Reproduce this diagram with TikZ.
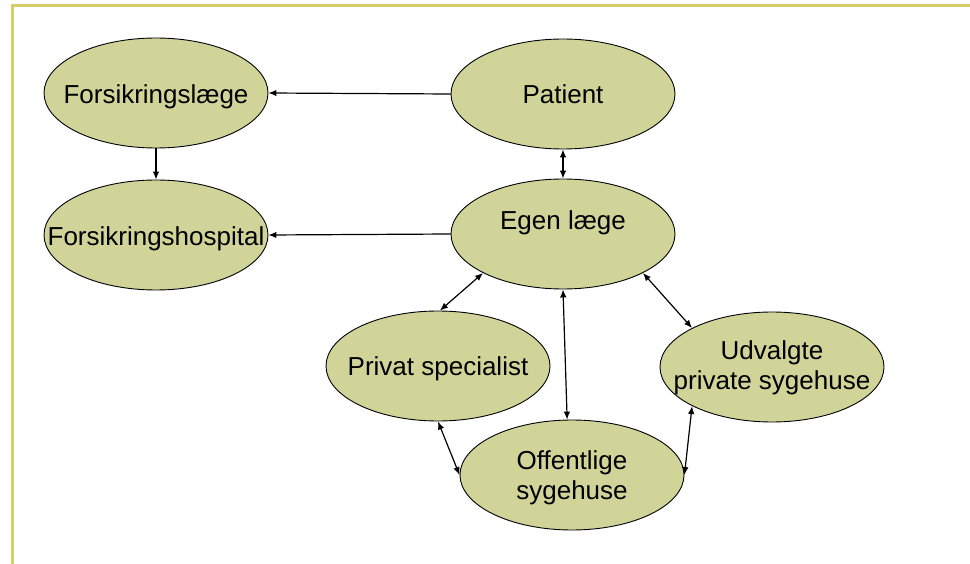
\documentclass[tikz,border=0pt]{standalone}
\usepackage{fontspec}
\setmainfont{Liberation Sans}
\usetikzlibrary{shapes.geometric,arrows.meta}
\definecolor{ellfill}{RGB}{209,212,153}
\definecolor{framecol}{RGB}{213,207,106}
\tikzset{
  ell/.style={ellipse, draw=black, line width=0.9pt, fill=ellfill, minimum width=224pt, minimum height=110pt, inner sep=0pt},
  txt/.style={inner sep=0pt, align=center, font=\fontsize{26}{30}\selectfont},
  txtone/.style={txt, text height=18.6pt, text depth=0pt},
  conn/.style={line width=1.2pt, -{Latex[length=8pt,width=6.5pt]}},
  biconn/.style={line width=1.2pt, {Latex[length=8pt,width=6.5pt]}-{Latex[length=8pt,width=6.5pt]}},
  framebar/.style={draw=framecol, line width=3pt}
}
\begin{document}
\begin{tikzpicture}[x=1pt,y=-1pt]
\useasboundingbox (0,0) rectangle (970,564);
\draw[framebar] (12.5,566) -- (12.5,5.5) -- (972,5.5);

\node[ell] (fl) at (156,93) {};
\node[txtone] (flt) at (156,94) {Forsikringslæge};
\node[ell] (pa) at (563,94) {};
\node[txtone] (pat) at (563,94) {Patient};
\node[ell] (fh) at (156,235) {};
\node[txtone] (fht) at (156,236) {Forsikringshospital};
\node[ell] (eg) at (563,234) {};
\node[txtone] (egt) at (563,220) {Egen læge};
\node[ell] (ps) at (438,366) {};
\node[txtone] (pst) at (438,366) {Privat specialist};
\node[ell] (up) at (772,367) {};
\node[txt] (upt) at (772,368) {Udvalgte\\private sygehuse};
\node[ell] (os) at (572,475) {};
\node[txt] (ost) at (572,478) {Offentlige\\sygehuse};

\draw[conn] (pa.180) -- (fl.0);
\draw[conn] (eg.180) -- (fh.0);
\draw[conn] (fl.270) -- (fh.90);
\draw[biconn] (pa.270) -- (eg.90);
\draw[biconn] (eg.206) -- (ps.88);
\draw[biconn] (eg.270) -- (os.95);
\draw[biconn] (eg.334) -- (up.154);
\draw[biconn] (ps.270) -- (os.180);
\draw[biconn] (up.206) -- (os.0);
\end{tikzpicture}
\end{document}
